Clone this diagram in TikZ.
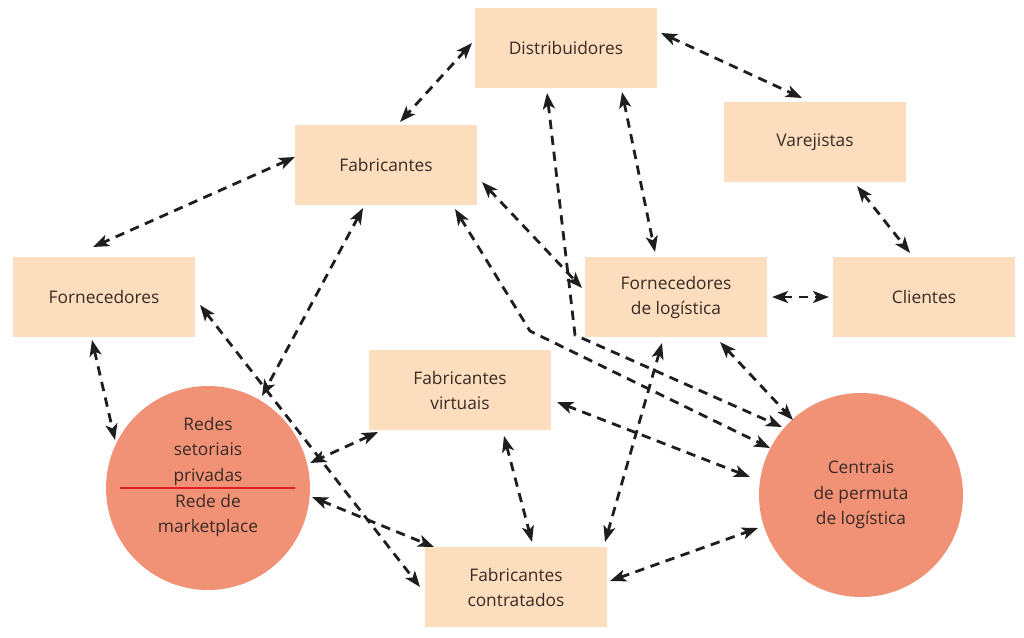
\documentclass[tikz,border=0pt]{standalone}
\usepackage{fontspec}
\setmainfont{Open Sans}
\usetikzlibrary{arrows.meta,calc}
\definecolor{boxfill}{RGB}{252,222,190}
\definecolor{circfill}{RGB}{241,146,118}
\definecolor{txt}{RGB}{58,42,36}
\definecolor{redln}{RGB}{226,30,36}
\definecolor{arrowc}{RGB}{30,30,30}
\begin{document}
\begin{tikzpicture}[x=0.75pt,y=-0.75pt,
  box/.style={rectangle,fill=boxfill,minimum width=136.5pt,minimum height=60pt,inner sep=0pt,align=center,text=txt,font=\fontsize{13}{18.75}\selectfont},
  circ/.style={circle,fill=circfill,minimum size=153pt,inner sep=0pt,align=center,text=txt,font=\fontsize{13}{19.2}\selectfont},
  lbl/.style={align=center,text=txt,inner sep=0pt,font=\fontsize{13}{19.2}\selectfont},
  conn/.style={draw=arrowc,line width=2.1pt,dash pattern=on 7pt off 5pt,
    arrows={Stealth[length=12pt,width=9pt,inset=3pt]-Stealth[length=12pt,width=9pt,inset=3pt]}},
  redrule/.style={draw=redln,line width=1.6pt}]
\useasboundingbox[fill=white] (0,0) rectangle (1024,637);
% nodes
\node[box] (dist)  at (566,48)  {Distribuidores};
\node[box] (fab)   at (386,165) {Fabricantes};
\node[box] (var)   at (815,142) {Varejistas};
\node[box] (forn)  at (104,297) {Fornecedores};
\node[box] (flog)  at (676,297) {Fornecedores\\de logística};
\node[box] (cli)   at (924,297) {Clientes};
\node[box] (fvirt) at (460,390) {Fabricantes\\virtuais};
\node[box] (fcont) at (516,587) {Fabricantes\\contratados};
\node[circ] (lc) at (208,488) {};
\node[lbl] (lctext) at (208,477) {Redes\\setoriais\\privadas\\Rede de\\marketplace};
\node[circ] (rc) at (861,495) {Centrais\\de permuta\\de logística};
\draw[redrule] ($(lc.center)+(-88,0)$) -- ($(lc.center)+(87,0)$);
% bend points
\coordinate (bendD) at (575,335);
\coordinate (bendF) at (530,331);
% connectors
\draw[conn] ($(dist.center)+(-94,-5)$) -- ($(fab.center)+(14,-43)$);
\draw[conn] ($(dist.center)+(95,-15)$) -- ($(var.center)+(-13,-44)$);
\draw[conn] ($(fab.center)+(-91,-8)$) -- ($(forn.center)+(-11,-50)$);
\draw[conn] ($(var.center)+(42,44)$) -- ($(cli.center)+(-14,-44)$);
\draw[conn] ($(flog.center)+(96,0)$) -- ($(cli.center)+(-95,0)$);
\draw[conn] ($(dist.center)+(56,44)$) -- ($(flog.center)+(-21,-45)$);
\draw[conn] ($(fab.center)+(96,17)$) -- ($(flog.center)+(-94,-9)$);
\draw[conn] ($(dist.center)+(-19,45)$) -- (bendD) -- ($(rc.center)+(-79,-68)$);
\draw[conn] ($(fab.center)+(69,44)$) -- (bendF) -- ($(rc.center)+(-91,-47)$);
\draw[conn] ($(flog.center)+(44,45)$) -- ($(rc.center)+(-68,-75)$);
\draw[conn] ($(fvirt.center)+(97,12)$) -- ($(rc.center)+(-111,-18)$);
\draw[conn] ($(fcont.center)+(89,-45)$) -- ($(flog.center)+(-14,46)$);
\draw[conn] ($(fcont.center)+(94,-6)$) -- ($(rc.center)+(-103,33)$);
\draw[conn] ($(fvirt.center)+(44,46)$) -- ($(fcont.center)+(16,-45)$);
\draw[conn] ($(forn.center)+(-12,43)$) -- ($(lc.center)+(-93,-48)$);
\draw[conn] ($(fab.center)+(-23,43)$) -- ($(lc.center)+(54,-92)$);
\draw[conn] ($(forn.center)+(96,8)$) -- ($(fcont.center)+(-96,0)$);
\draw[conn] ($(fvirt.center)+(-82,42)$) -- ($(lc.center)+(102,-25)$);
\draw[conn] ($(lc.center)+(104,9)$) -- ($(fcont.center)+(-82,-40)$);
\end{tikzpicture}
\end{document}
